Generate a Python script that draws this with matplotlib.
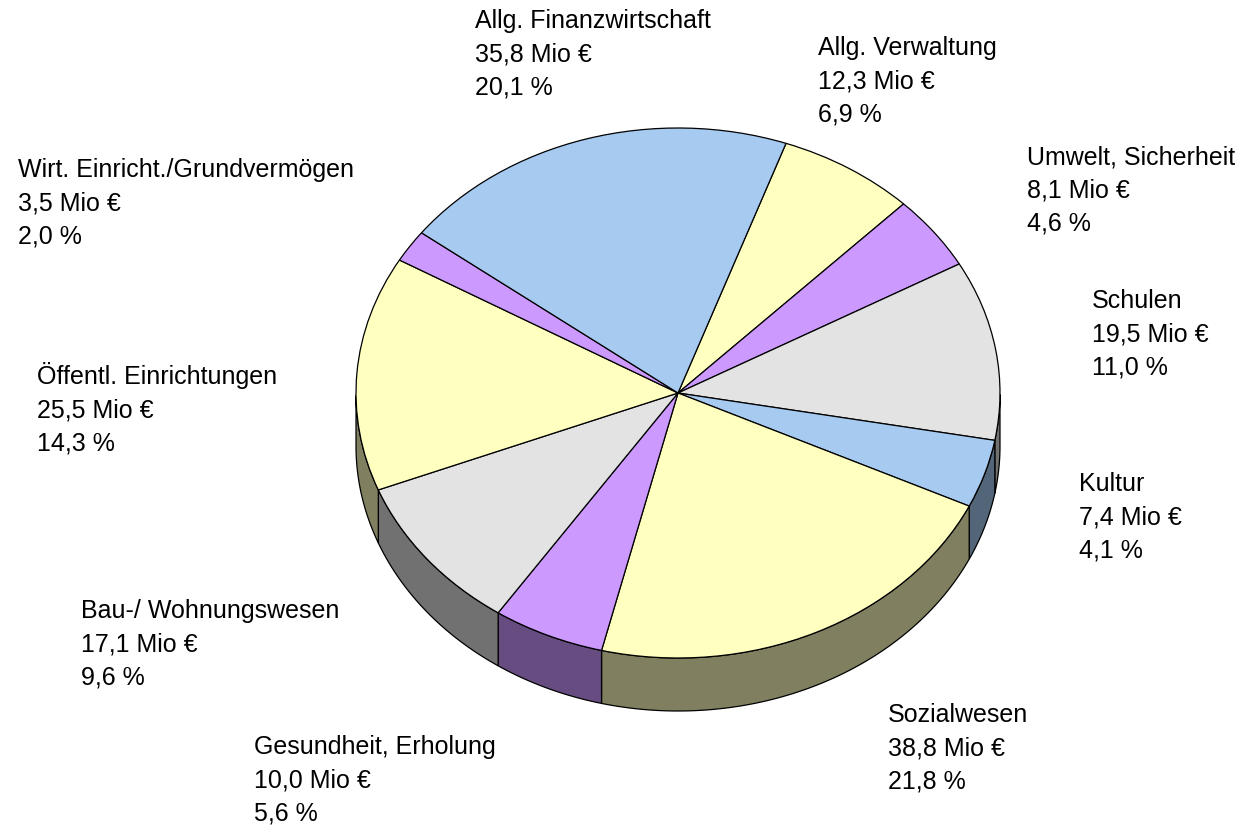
import numpy as np
import matplotlib
matplotlib.use("Agg")
import matplotlib.pyplot as plt

plt.rcParams["font.family"] = ["Liberation Sans", "DejaVu Sans"]

categories = ["Allg. Verwaltung", "Umwelt, Sicherheit", "Schulen", "Kultur", "Sozialwesen",
              "Gesundheit, Erholung", "Bau-/ Wohnungswesen", "Öffentl. Einrichtungen",
              "Wirt. Einricht./Grundvermögen", "Allg. Finanzwirtschaft"]
values = [12.3, 8.1, 19.5, 7.4, 38.8, 10.0, 17.1, 25.5, 3.5, 35.8]
percents = [6.9, 4.6, 11.0, 4.1, 21.8, 5.6, 9.6, 14.3, 2.0, 20.1]

top_colors = ["#FFFFC0", "#CC99FF", "#E3E3E3", "#A6CAF0", "#FFFFC0",
              "#CC99FF", "#E3E3E3", "#FFFFC0", "#CC99FF", "#A6CAF0"]
wall_colors = ["#808060", "#664C80", "#717171", "#536578", "#808060",
               "#664C80", "#717171", "#808060", "#664C80", "#536578"]

# label anchor (left edge, first baseline) in pixels
label_x = [818, 1027, 1092, 1079, 888, 254, 81, 37, 18, 475]
label_y = [55, 164, 308, 491, 722, 754, 618, 384, 177, 28]

W, H = 1249, 825
CX, CY, RX, RY = 678, 393, 322, 265
DEPTH = 53 / RY
START = 90 - 19.6

fig = plt.figure(figsize=(W / 100, H / 100), dpi=100)
ax = fig.add_axes([0, 0, 1, 1])

ax.pie(values, colors=top_colors, startangle=START, counterclock=False, radius=1,
       wedgeprops={"edgecolor": "black", "linewidth": 0.9, "zorder": 3})
ax.set_aspect("auto")
ax.set_xlim((0 - CX) / RX, (W - CX) / RX)
ax.set_ylim((CY - H) / RY, CY / RY)
ax.axis("off")

# side wall, only the front half of the rim shows
shares = np.array(values) / sum(values) * 360
ends = START - np.cumsum(shares)
starts = ends + shares
for a0, a1, col in zip(starts, ends, wall_colors):
    t = np.radians(np.linspace(a0, a1, 80))
    t = t[np.sin(t) <= 0.0]
    if len(t) < 2:
        continue
    xs = np.cos(t)
    ys = np.sin(t)
    ax.fill(np.r_[xs, xs[::-1]], np.r_[ys, ys[::-1] - DEPTH], facecolor=col,
            edgecolor="black", linewidth=0.9, zorder=2)

for name, val, pct, x, y in zip(categories, values, percents, label_x, label_y):
    lines = [name, f"{val:.1f} Mio €".replace(".", ","), f"{pct:.1f} %".replace(".", ",")]
    for i, line in enumerate(lines):
        fig.text(x / W, 1 - (y + i * 33.4) / H, line, fontsize=18, color="black",
                 ha="left", va="baseline")

fig.savefig("out.png", dpi=100)
